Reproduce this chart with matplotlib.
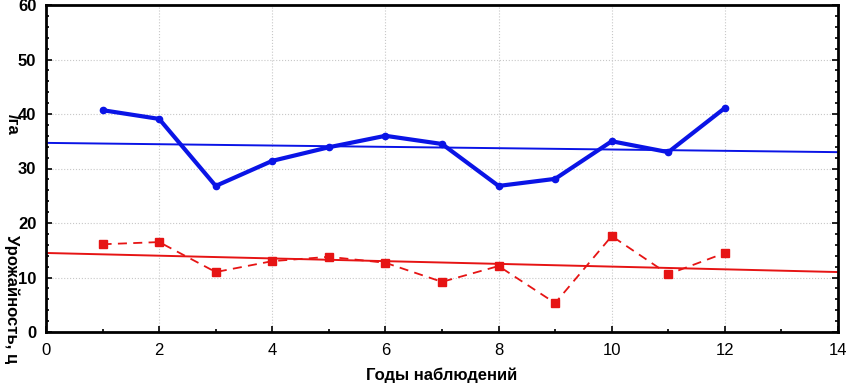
"""Yield by observation year with linear trends."""

import matplotlib.pyplot as plt
from matplotlib.ticker import MultipleLocator

years = [1, 2, 3, 4, 5, 6, 7, 8, 9, 10, 11, 12]
yield_blue = [40.7, 39.1, 26.8, 31.4, 33.9, 36.0, 34.5, 26.8, 28.1, 35.0, 33.0, 41.1]
yield_red = [16.1, 16.5, 11.0, 13.0, 13.8, 12.7, 9.2, 12.1, 5.3, 17.6, 10.6, 14.5]
trend_x = [0, 14]
trend_blue = [34.7, 33.0]
trend_red = [14.5, 11.0]

plt.rcParams["font.family"] = ["Liberation Sans", "DejaVu Sans"]


def main() -> None:
    fig = plt.figure(figsize=(8.49, 3.84), dpi=100)
    ax = fig.add_axes([46 / 849, 1 - 332 / 384, (838 - 46) / 849, (332 - 5) / 384])

    ax.plot(years, yield_blue, color="#0a14e6", linewidth=3, marker="o", markersize=4.5)
    ax.plot(trend_x, trend_blue, color="#0a14e6", linewidth=1.4)
    ax.plot(years, yield_red, color="#e61414", linewidth=1.3, linestyle=(0, (5, 3.5)),
            marker="s", markersize=5.5)
    ax.plot(trend_x, trend_red, color="#e61414", linewidth=1.4)

    ax.set_xlim(0, 14)
    ax.set_ylim(0, 60)
    ax.xaxis.set_major_locator(MultipleLocator(2))
    ax.xaxis.set_minor_locator(MultipleLocator(1))
    ax.yaxis.set_major_locator(MultipleLocator(10))
    ax.yaxis.set_minor_locator(MultipleLocator(2))
    ax.tick_params(which="both", direction="in", top=False, right=True, width=1.2)
    ax.tick_params(which="major", length=4)
    ax.tick_params(which="minor", length=2)
    ax.tick_params(axis="x", labelsize=12, pad=8)
    ax.tick_params(axis="y", labelsize=12, pad=7)
    for lab in ax.get_yticklabels():
        lab.set_fontweight("bold")
    for sp in ax.spines.values():
        sp.set_linewidth(2)
    ax.grid(True, color="#c8c8c8", linestyle=":", linewidth=0.8)

    ax.set_xlabel("Годы наблюдений", fontsize=12, fontweight="bold", labelpad=7)
    fig.text(0.014, 1 - 235 / 384, "Урожайность, ц", rotation=270, fontsize=12,
             fontweight="bold", ha="center", va="top")
    fig.text(0.014, 1 - 114 / 384, "/га", rotation=270, fontsize=12,
             fontweight="bold", ha="center", va="top")

    fig.savefig("out.png", dpi=100)
    plt.close(fig)


if __name__ == "__main__":
    main()
